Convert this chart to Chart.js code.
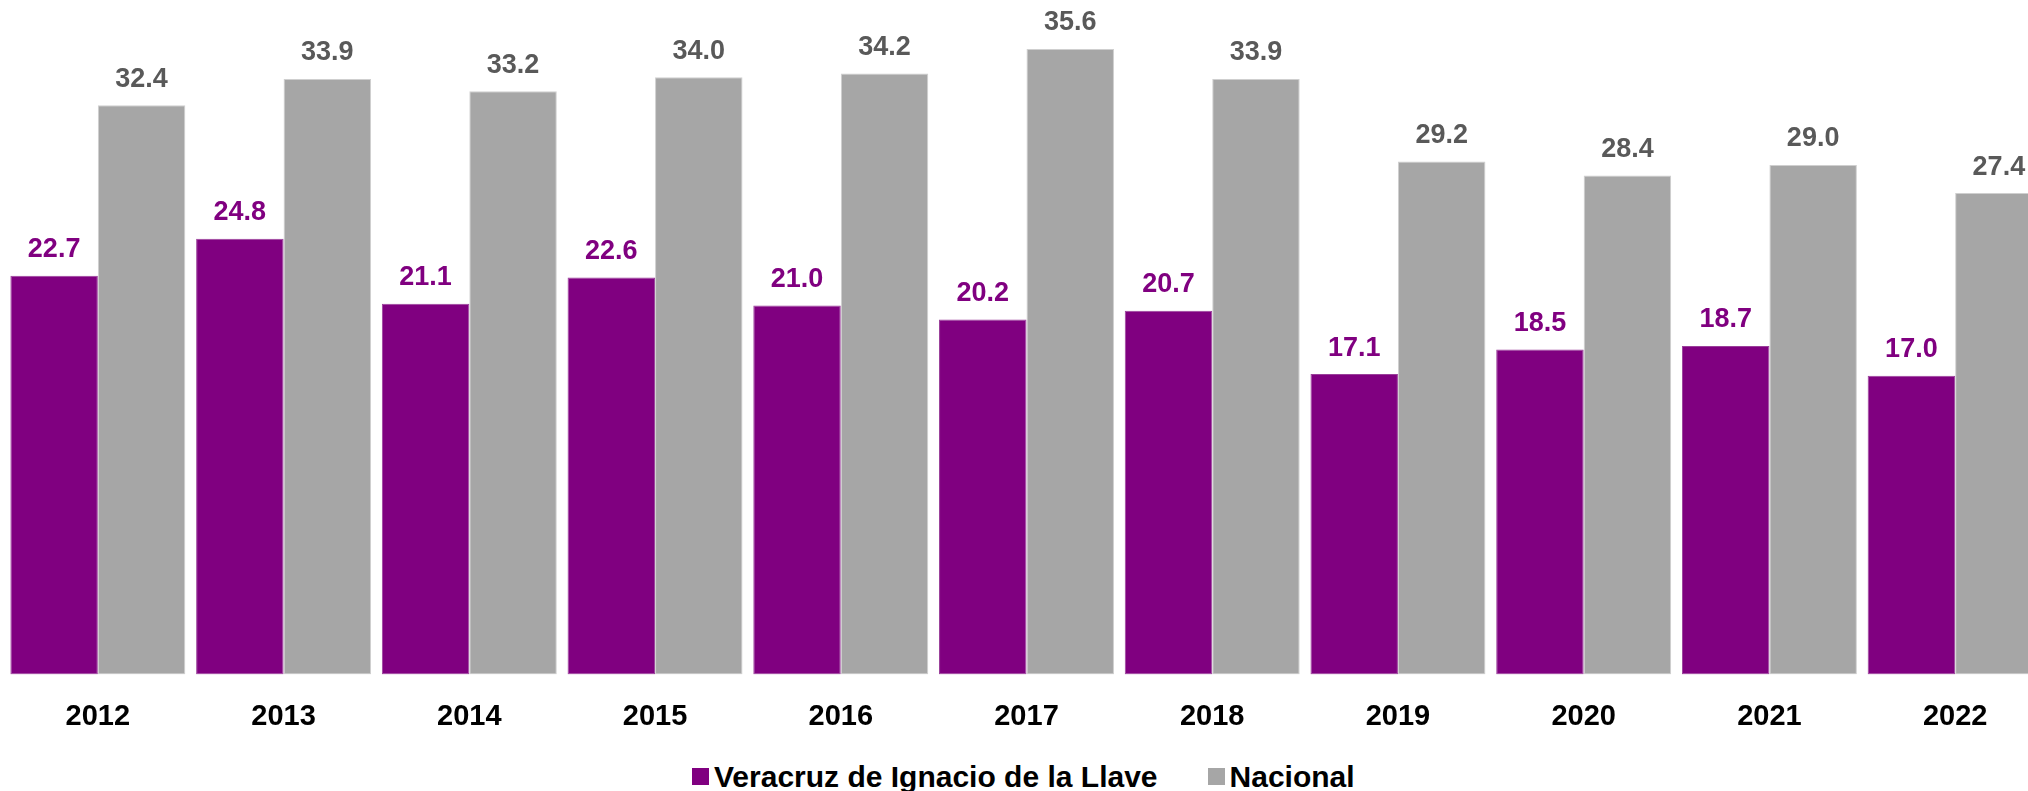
<!DOCTYPE html>
<html>
<head>
<meta charset="utf-8">
<script src="https://cdn.jsdelivr.net/npm/chart.js@4"></script>
<style>
  body { margin: 0; background: #fff; overflow: hidden; }
  #wrap { position: relative; width: 2028px; height: 791px; overflow: hidden; }
  #legend { position: absolute; left: 692px; top: 759px; display: flex; align-items: center;
    font: bold 30px "Liberation Sans", Arial, sans-serif; color: #000; line-height: 35px; white-space: nowrap; }
  .item { display: flex; align-items: center; }
  .box { width: 17px; height: 17px; margin-right: 5px; }
</style>
</head>
<body>
<div id="wrap">
  <canvas id="chart" width="2048" height="745"></canvas>
  <div id="legend"></div>
</div>
<script>
// Years and series
const years = ['2012', '2013', '2014', '2015', '2016', '2017', '2018', '2019', '2020', '2021', '2022'];
const veracruz = [22.7, 24.8, 21.1, 22.6, 21.0, 20.2, 20.7, 17.1, 18.5, 18.7, 17.0];
const nacional = [32.4, 33.9, 33.2, 34.0, 34.2, 35.6, 33.9, 29.2, 28.4, 29.0, 27.4];
const seriesNames = ['Veracruz de Ignacio de la Llave', 'Nacional'];

const purple = '#800080';
const grey = '#a6a6a6';
const labelColors = [purple, '#595959'];

// value labels above each bar
const valueLabels = {
    id: 'valueLabels',
    afterDatasetsDraw(chart) {
        const ctx = chart.ctx;
        ctx.save();
        ctx.font = 'bold 27px "Liberation Sans", Arial, sans-serif';
        ctx.textAlign = 'center';
        ctx.textBaseline = 'middle';
        chart.data.datasets.forEach((ds, i) => {
            ctx.fillStyle = labelColors[i];
            chart.getDatasetMeta(i).data.forEach((bar, j) => {
                ctx.fillText(ds.data[j].toFixed(1), bar.x, bar.y - 26);
            });
        });
        ctx.restore();
    }
};

new Chart(document.getElementById('chart'), {
    type: 'bar',
    data: {
        labels: years,
        datasets: [
            { label: seriesNames[0], data: veracruz, backgroundColor: purple,
              borderColor: '#9a3f9a', borderWidth: 1, borderSkipped: false },
            { label: seriesNames[1], data: nacional, backgroundColor: grey,
              borderColor: '#cfcfcf', borderWidth: 1, borderSkipped: false }
        ]
    },
    options: {
        responsive: false,
        animation: false,
        layout: { padding: { left: 5, right: 0, top: 0, bottom: 0 } },
        categoryPercentage: 0.942,
        barPercentage: 1.0,
        scales: {
            x: {
                grid: { display: false },
                border: { display: false },
                ticks: {
                    color: '#000',
                    padding: 17,
                    font: { family: '"Liberation Sans", Arial, sans-serif', size: 29, weight: 'bold' }
                },
                afterFit(scale) { scale.height = 70.5; }
            },
            y: { display: false, min: 0, max: 38.39 }
        },
        plugins: {
            legend: { display: false },
            tooltip: { enabled: false }
        }
    },
    plugins: [valueLabels]
});

// legend below the chart
const legend = document.getElementById('legend');
[purple, grey].forEach((c, i) => {
    const item = document.createElement('div');
    item.className = 'item';
    if (i > 0) item.style.marginLeft = '50px';
    item.innerHTML = `<span class="box" style="background:${c}"></span><span>${seriesNames[i]}</span>`;
    legend.appendChild(item);
});
</script>
</body>
</html>
